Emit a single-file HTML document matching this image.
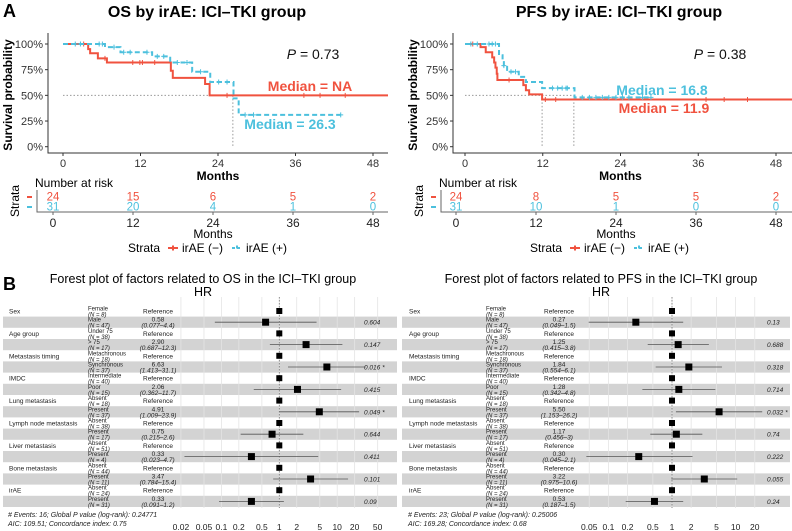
<!DOCTYPE html>
<html><head><meta charset="utf-8"><style>
body{margin:0;background:#fff;}
svg{display:block;font-family:"Liberation Sans",Arial,sans-serif;}
</style></head><body>
<svg id="fig" width="792" height="531" viewBox="0 0 792 531" xmlns="http://www.w3.org/2000/svg">
<rect width="792" height="531" fill="#fff"/>
<text x="3" y="17" font-size="18" font-weight="bold">A</text>
<text x="3" y="290" font-size="18" font-weight="bold">B</text>
<g id="root"></g>
</svg>
<script>
// ---- KM data ----
const osRedT=[0,3.9,4.2,5.4,6.8,16.7,17.0,22.0,22.7,50];
const osRedS=[1,0.95,0.91,0.86,0.82,0.74,0.67,0.61,0.50,0.50];
const osRedCens=[3.2,6.5,10.8,11.9,12.3,14.2,25.4,37.3,39.8,43.7];
const osBlueT=[0,6.5,8.9,13.8,16.6,20.0,22.8,26.4,27.2,43.0];
const osBlueS=[1,0.97,0.92,0.88,0.82,0.73,0.63,0.47,0.31,0.31];
const osBlueCens=[1.9,2.7,5.6,6.1,7.9,9.4,10.4,13.0,14.6,15.6,17.7,19.2,21.3,24.1,25.4,28.2,29.5,43.0];
const pfsRedT=[0,2.4,3.2,4.2,4.5,4.7,4.9,5.0,9.0,9.4,9.9,11.9,50];
const pfsRedS=[1,0.97,0.92,0.87,0.82,0.77,0.71,0.65,0.60,0.55,0.51,0.46,0.46];
const pfsRedCens=[1.2,6.8,12.4,14.0,37.2,40.0,43.6];
const pfsBlueT=[0,5.25,5.8,6.0,6.5,8.3,9.4,11.9,16.9,28.7];
const pfsBlueS=[1,0.89,0.84,0.79,0.73,0.68,0.63,0.57,0.48,0.48];
const pfsBlueCens=[0.9,1.9,3.7,4.2,4.7,6.0,7.1,7.8,13.5,14.3,15.0,15.6,15.8,18.1,19.2,20.2,21.2,22.2,23.3,24.3,25.3,27.4,28.7];
const xTicks=[0,12,24,36,48];
const yTicks=[0,0.25,0.5,0.75,1];
const osRiskRed=[24,15,6,5,2], osRiskBlue=[31,20,4,1,0];
const pfsRiskRed=[24,8,5,5,2], pfsRiskBlue=[31,10,1,0,0];
// ---- forest data ----
const fVars=["Sex","Age group","Metastasis timing","IMDC","Lung metastasis","Lymph node metastasis","Liver metastasis","Bone metastasis","irAE"];
const fRefLevels=["Female","Under 75","Metachronous","Intermediate","Absent","Absent","Absent","Absent","Absent"];
const fLevels=["Male","> 75","Synchronous","Poor","Present","Present","Present","Present","Present"];
const osRefN=[8,38,18,40,18,38,51,44,24];
const osN=[47,17,37,15,37,17,4,11,31];
const osHR=[0.58,2.90,6.63,2.06,4.91,0.75,0.33,3.47,0.33];
const osLo=[0.077,0.687,1.413,0.362,1.009,0.215,0.023,0.784,0.091];
const osHi=[4.4,12.3,31.1,11.7,23.9,2.6,4.7,15.4,1.2];
const osP=["0.604","0.147","0.016 *","0.415","0.049 *","0.644","0.411","0.101","0.09"];
const pfsRefN=[8,38,18,40,18,38,51,44,24];
const pfsN=[47,17,37,15,37,17,4,11,31];
const pfsHR=[0.27,1.25,1.84,1.28,5.50,1.17,0.30,3.22,0.53];
const pfsLo=[0.049,0.415,0.554,0.342,1.153,0.456,0.045,0.975,0.187];
const pfsHi=[1.5,3.8,6.1,4.8,26.2,3.0,2.1,10.6,1.5];
const pfsP=["0.13","0.688","0.318","0.714","0.032 *","0.74","0.222","0.055","0.24"];
const osTicks=[0.02,0.05,0.1,0.2,0.5,1,2,5,10,20,50];
const pfsTicks=[0.05,0.1,0.2,0.5,1,2,5,10,20];

const NS="http://www.w3.org/2000/svg";
const root=document.getElementById('root');
function mk(tag,attrs,parent,txt){const e=document.createElementNS(NS,tag);for(const k in attrs)e.setAttribute(k,attrs[k]);if(txt!==undefined)e.textContent=txt;(parent||root).appendChild(e);return e;}
const RED="#f0523f",BLUE="#4cc0dd";

function km(o){
  const g=mk('g',{});
  
  
  const X=t=>o.x0+(o.x48-o.x0)*t/48;
  const Y=s=>146.7-(146.7-44)*s;
  let t=mk('text',{x:o.cx,y:17,'font-size':16,'font-weight':'bold','text-anchor':'middle'},g,o.title);
  
  let ax=mk('path',{d:`M${o.ax},33V153H${o.xend}`,stroke:'#333','stroke-width':1,fill:'none'},g);
  
  yTicks.forEach(v=>{
    mk('line',{x1:o.ax-3,x2:o.ax,y1:Y(v),y2:Y(v),stroke:'#333'},g);
    let l=mk('text',{x:o.ax-5,y:Y(v)+4,'font-size':11,'text-anchor':'end',fill:'#333'},g,Math.round(v*100)+'%');
    
  });
  xTicks.forEach(v=>{
    mk('line',{x1:X(v),x2:X(v),y1:153,y2:156,stroke:'#333'},g);
    let l=mk('text',{x:X(v),y:167,'font-size':11,'text-anchor':'middle',fill:'#333'},g,v);
    
  });
  let yl=mk('text',{x:0,y:0,'font-size':12,'font-weight':'bold','text-anchor':'middle',transform:`translate(${o.ax-36},95) rotate(-90)`},g,'Survival probability');
  
  let xl=mk('text',{x:(o.x0+o.x48)/2,y:180,'font-size':12,'font-weight':'bold','text-anchor':'middle'},g,'Months');
  
  let md=`M${X(0)},${Y(0.5)}H${X(Math.max(...o.medians))}`;
  o.medians.forEach(m=>{md+=`M${X(m)},${Y(0.5)}V${Y(0)}`;});
  let ml=mk('path',{d:md,stroke:'#999','stroke-width':1,'stroke-dasharray':'1.5,2',fill:'none'},g);
  
  o.series.forEach(s=>{
    let d=`M${X(s.t[0])},${Y(s.s[0])}`;
    for(let i=1;i<s.t.length;i++){d+=`H${X(Math.min(s.t[i],50))}V${Y(s.s[i])}`;}
    if(s.end!==undefined)d+=`H${s.end}`;
    let p=mk('path',{d:d,stroke:s.c,'stroke-width':2,fill:'none','stroke-dasharray':s.dash||'none'},g);
    
    s.cens.forEach(c=>{
      let k=0;for(let i=0;i<s.t.length;i++)if(s.t[i]<=c)k=i;
      let m=mk('path',{d:`M${X(c)-2.5},${Y(s.s[k])}h5M${X(c)},${Y(s.s[k])-2.5}v5`,stroke:s.c,'stroke-width':1},g);
      
    });
  });
  o.labels.forEach(L=>{
    let e=mk('text',{x:L.x,y:L.y,'font-size':14,'font-weight':L.b?'bold':'normal',fill:L.c,'text-anchor':'middle'},g);
    if(L.p){mk('tspan',{'font-style':'italic'},e,'P');mk('tspan',{},e,' = '+L.txt);}else e.textContent=L.txt;
    
  });
  const R=t=>o.r0+(o.r48-o.r0)*t/48;
  let nr=mk('text',{x:o.rl-2,y:187,'font-size':12},g,'Number at risk');
  
  mk('path',{d:`M${o.rl},190V212H${o.xend}`,stroke:'#666',fill:'none'},g);
  let st=mk('text',{x:0,y:0,'font-size':12,'text-anchor':'middle',transform:`translate(${o.rl-18},201) rotate(-90)`},g,'Strata');
  
  mk('line',{x1:o.rl-10,x2:o.rl-5,y1:197,y2:197,stroke:RED,'stroke-width':2},g);
  mk('line',{x1:o.rl-10,x2:o.rl-5,y1:207,y2:207,stroke:BLUE,'stroke-width':2},g);
  xTicks.forEach((v,i)=>{
    let a=mk('text',{x:R(v),y:200.5,'font-size':11.5,fill:RED,'text-anchor':'middle'},g,o.riskR[i]);
    
    let b=mk('text',{x:R(v),y:210.5,'font-size':11.5,fill:BLUE,'text-anchor':'middle'},g,o.riskB[i]);
    
    mk('line',{x1:R(v),x2:R(v),y1:212,y2:215,stroke:'#666'},g);
    let l=mk('text',{x:R(v),y:227,'font-size':12,'text-anchor':'middle',fill:'#222'},g,v);
    
  });
  let rm=mk('text',{x:(o.r0+o.r48)/2,y:238,'font-size':12,'text-anchor':'middle'},g,'Months');
  
  const lx=o.legX;
  let lg=mk('g',{},g);
  
  mk('text',{x:lx,y:252,'font-size':12},lg,'Strata');
  mk('path',{d:`M${lx+40},248h10M${lx+45},245.5v5`,stroke:RED,'stroke-width':2},lg);
  let e1=mk('text',{x:lx+54,y:252,'font-size':12},lg,'irAE (\u2212)');
  
  mk('path',{d:`M${lx+104},248h10M${lx+109},245.5v5`,stroke:BLUE,'stroke-width':2,'stroke-dasharray':'3,2'},lg);
  let e2=mk('text',{x:lx+118,y:252,'font-size':12},lg,'irAE (+)');
  
}

km({name:'os',title:'OS by irAE: ICI\u2013TKI group',cx:207,ax:48,xend:388,x0:63,x48:373,medians:[26.3],
  series:[{n:'irae-neg',t:osRedT,s:osRedS,c:RED,cens:osRedCens,end:388},
          {n:'irae-pos',t:osBlueT,s:osBlueS,c:BLUE,cens:osBlueCens,dash:'5,3'}],
  labels:[{x:310,y:91,txt:'Median = NA',c:RED,b:1,n:'median-label-irae-neg'},
          {x:290,y:129,txt:'Median = 26.3',c:BLUE,b:1,n:'median-label-irae-pos'},
          {x:313,y:59,txt:'0.73',c:'#111',p:1,n:'p-value-label'}],
  rl:37,r0:53,r48:373,riskR:osRiskRed,riskB:osRiskBlue,legX:128});
km({name:'pfs',title:'PFS by irAE: ICI\u2013TKI group',cx:619,ax:453,xend:792,x0:465,x48:776,medians:[11.9,16.8],
  series:[{n:'irae-neg',t:pfsRedT,s:pfsRedS,c:RED,cens:pfsRedCens,end:792},
          {n:'irae-pos',t:pfsBlueT,s:pfsBlueS,c:BLUE,cens:pfsBlueCens,dash:'5,3'}],
  labels:[{x:662,y:95,txt:'Median = 16.8',c:BLUE,b:1,n:'median-label-irae-pos'},
          {x:664,y:113,txt:'Median = 11.9',c:RED,b:1,n:'median-label-irae-neg'},
          {x:720,y:59,txt:'0.38',c:'#111',p:1,n:'p-value-label'}],
  rl:441,r0:456,r48:776,riskR:pfsRiskRed,riskB:pfsRiskBlue,legX:530});

function forest(o){
  const g=mk('g',{});
  
  
  const X=v=>o.x1+o.dec*Math.log10(v);
  const rowY=i=>311+i*11.2;
  let t=mk('text',{x:o.cx,y:283,'font-size':12.5,'text-anchor':'middle'},g,o.title);
  
  let h=mk('text',{x:o.cx,y:296,'font-size':12.5,'text-anchor':'middle'},g,'HR');
  
  for(let v=0;v<fVars.length;v++){
    const yb=rowY(2*v+1);
    let r=mk('rect',{x:o.sx,y:yb-5.6,width:o.sw,height:11.2,fill:'#d3d3d3'},g);
    
  }
  o.ticks.forEach(v=>{
    mk('line',{x1:X(v),x2:X(v),y1:297,y2:508,stroke:'#e4e4e4','stroke-width':0.8},g);
    let l=mk('text',{x:X(v),y:530,'font-size':8.5,'text-anchor':'middle',fill:'#222'},g,v);
    
  });
  mk('line',{x1:X(1),x2:X(1),y1:297,y2:508,stroke:'#777','stroke-width':0.8,'stroke-dasharray':'1.5,1.5'},g);
  for(let v=0;v<fVars.length;v++){
    const ya=rowY(2*v), yb=rowY(2*v+1);
    let vn=mk('text',{x:o.vx,y:ya+2.5,'font-size':6.5,fill:'#222'},g,fVars[v]);
    
    mk('text',{x:o.lx,y:ya-0.5,'font-size':6,fill:'#222'},g,fRefLevels[v]);
    mk('text',{x:o.lx,y:ya+5.5,'font-size':6,'font-style':'italic',fill:'#222'},g,'(N = '+o.refN[v]+')');
    mk('text',{x:o.lx,y:yb-0.5,'font-size':6,fill:'#222'},g,fLevels[v]);
    mk('text',{x:o.lx,y:yb+5.5,'font-size':6,'font-style':'italic',fill:'#222'},g,'(N = '+o.n[v]+')');
    mk('text',{x:o.hx,y:ya+2.5,'font-size':6.5,'text-anchor':'middle',fill:'#222'},g,'Reference');
    mk('text',{x:o.hx,y:yb-0.5,'font-size':6.5,'text-anchor':'middle',fill:'#222'},g,o.hr[v].toFixed(2));
    mk('text',{x:o.hx,y:yb+5.5,'font-size':6.5,'font-style':'italic','text-anchor':'middle',fill:'#222'},g,'('+o.lo[v]+'\u2013'+o.hi[v]+')');
    let pv=mk('text',{x:o.px,y:yb+2.5,'font-size':6.5,'font-style':'italic',fill:'#222'},g,o.p[v]);
    
    let rs=mk('rect',{x:X(1)-3,y:ya-3,width:6,height:6,fill:'#000'},g);
    
    let ci=mk('line',{x1:X(o.lo[v]),x2:X(o.hi[v]),y1:yb,y2:yb,stroke:'#555','stroke-width':0.8},g);
    
    let pt=mk('rect',{x:X(o.hr[v])-3.5,y:yb-3.5,width:7,height:7,fill:'#000'},g);
    
  }
  mk('text',{x:o.vx-1,y:517,'font-size':7,'font-style':'italic',fill:'#222'},g,o.foot1);
  mk('text',{x:o.vx-1,y:526,'font-size':7,'font-style':'italic',fill:'#222'},g,o.foot2);
}
forest({name:'os',title:'Forest plot of factors related to OS in the ICI\u2013TKI group',cx:203,x1:279.3,dec:57.9,ticks:osTicks,
  sx:3,sw:394,vx:9,lx:88,hx:158,px:364,refN:osRefN,n:osN,hr:osHR,lo:osLo,hi:osHi,p:osP,
  foot1:'# Events: 16; Global P value (log-rank): 0.24771',foot2:'AIC: 109.51; Concordance index: 0.75'});
forest({name:'pfs',title:'Forest plot of factors related to PFS in the ICI\u2013TKI group',cx:601,x1:672,dec:63.6,ticks:pfsTicks,
  sx:402,sw:388,vx:409,lx:486,hx:559,px:767,refN:pfsRefN,n:pfsN,hr:pfsHR,lo:pfsLo,hi:pfsHi,p:pfsP,
  foot1:'# Events: 23; Global P value (log-rank): 0.25006',foot2:'AIC: 169.28; Concordance index: 0.68'});
</script>
</body></html>
